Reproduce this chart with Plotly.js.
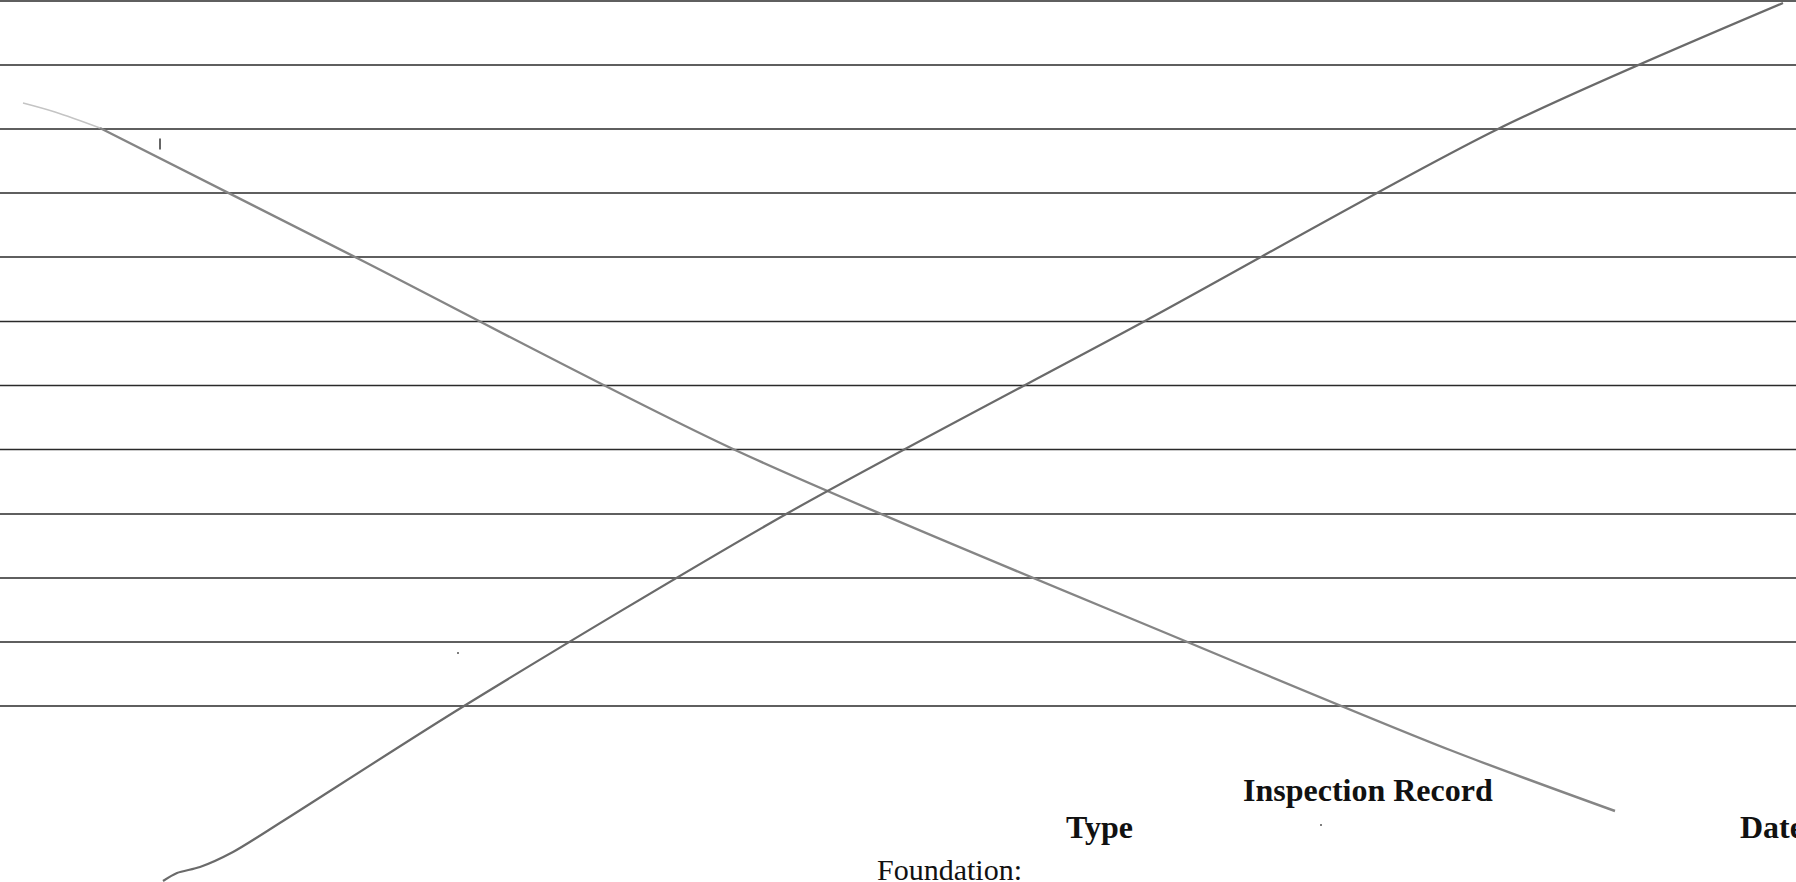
<!DOCTYPE html>
<html>
<head>
<meta charset="utf-8">
<script src="https://cdn.plot.ly/plotly-3.0.1.min.js"></script>
<style>
html,body{margin:0;padding:0;background:#fff;overflow:hidden;}
#chart{width:1796px;height:882px;}
</style>
</head>
<body>
<div id="chart"></div>
<script>
// Ruled lines of the scanned page (page pixel units)
const ruledLineY = [1, 65, 129, 193, 257, 321.5, 385.5, 449.5, 514, 578, 642, 706];
const pageWidth = 1796;
const pageHeight = 882;

// Descending cross-out stroke
const strokeAFaintX = [23, 55, 100];
const strokeAFaintY = [103, 112, 128];
const strokeAX = [100, 357, 733, 1185, 1450, 1615];
const strokeAY = [128, 258, 449, 641, 750, 811];

// Ascending cross-out stroke
const strokeBX = [163, 177, 200, 233, 283, 464, 788, 1145, 1498, 1783];
const strokeBY = [881, 873, 867, 852, 821, 706, 513, 321, 129, 3];

// Printed headings
const headingText = ['Inspection Record', 'Type', 'Date', 'Foundation:'];
const headingX = [1368, 1099, 1738, 949];
const headingY = [790, 827, 827, 869];
const headingBold = [true, true, true, false];

// Stray specks
const speckX = [458, 1321];
const speckY = [653, 825];

const traces = [];
ruledLineY.forEach(y => {
  traces.push({x: [0, pageWidth], y: [y, y], mode: 'lines', type: 'scatter',
    line: {color: '#2a2a2a', width: 1.6}, hoverinfo: 'skip', showlegend: false});
});
traces.push({x: strokeAFaintX, y: strokeAFaintY, mode: 'lines', type: 'scatter',
  line: {color: '#c4c4c4', width: 1.4, shape: 'spline'}, showlegend: false});
traces.push({x: strokeAX, y: strokeAY, mode: 'lines', type: 'scatter',
  line: {color: '#858585', width: 2.4, shape: 'spline', smoothing: 0.8}, showlegend: false});
traces.push({x: strokeBX, y: strokeBY, mode: 'lines', type: 'scatter',
  line: {color: '#6a6a6a', width: 2.2, shape: 'spline', smoothing: 0.8}, showlegend: false});
traces.push({x: speckX, y: speckY, mode: 'markers', type: 'scatter',
  marker: {color: '#555', size: 2}, showlegend: false});
traces.push({x: [160], y: [144], mode: 'markers', type: 'scatter',
  marker: {symbol: 'line-ns', size: 8, line: {color: '#333', width: 1.5}}, showlegend: false});

const annotations = headingText.map((t, i) => ({
  text: headingBold[i] ? '<b>' + t + '</b>' : t,
  x: headingX[i], y: headingY[i], xref: 'x', yref: 'y',
  xanchor: i === 2 ? 'left' : 'center', yanchor: 'middle',
  showarrow: false,
  font: {family: 'Liberation Serif, Times New Roman, serif', size: headingBold[i] ? 32 : 30, color: '#111'}
}));

const layout = {
  width: 1796, height: 882,
  margin: {l: 0, r: 0, t: 0, b: 0},
  paper_bgcolor: '#fff', plot_bgcolor: '#fff',
  xaxis: {range: [0, pageWidth], visible: false, fixedrange: true},
  yaxis: {range: [pageHeight, 0], visible: false, fixedrange: true},
  annotations: annotations,
  showlegend: false
};
Plotly.newPlot('chart', traces, layout, {displayModeBar: false, staticPlot: true});
</script>
</body>
</html>
